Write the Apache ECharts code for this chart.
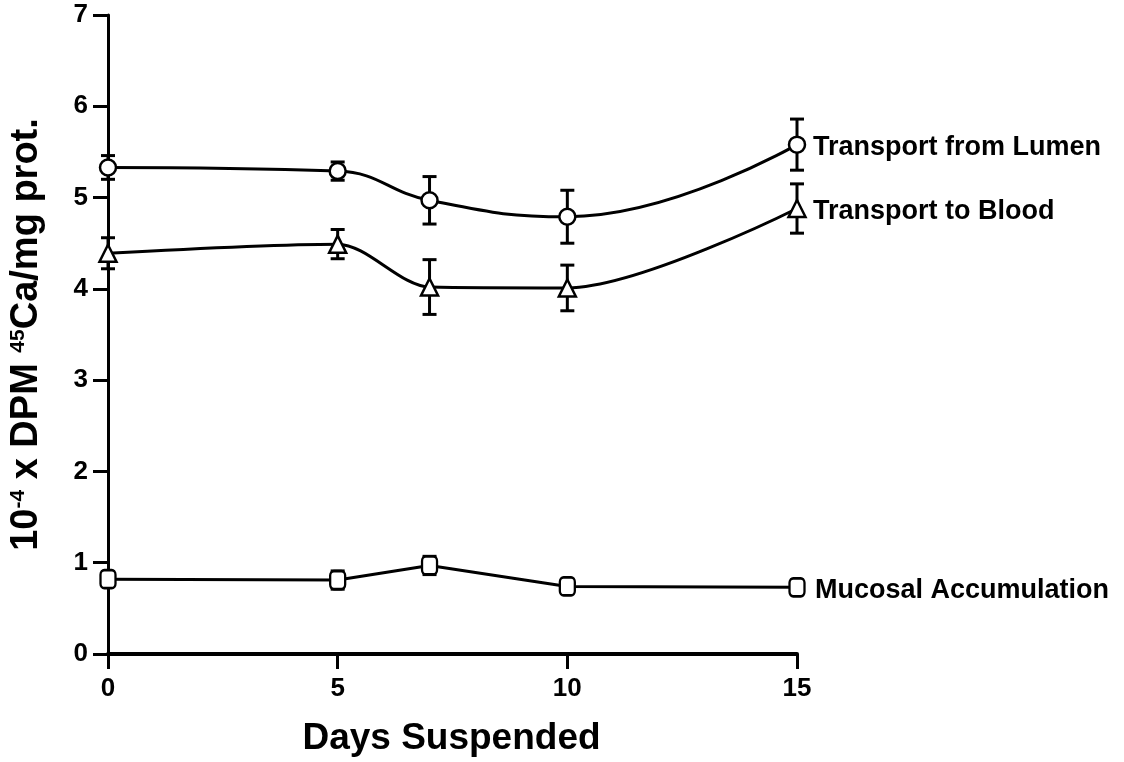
<!DOCTYPE html>
<html>
<head>
<meta charset="utf-8">
<script src="https://cdn.jsdelivr.net/npm/echarts@6/dist/echarts.min.js"></script>
<style>
html,body{margin:0;padding:0;background:#fff;}
#chart{width:1124px;height:762px;}
</style>
</head>
<body>
<div id="chart"></div>
<script>
const days = [0, 5, 7, 10, 15];
const lumen = [5.33, 5.29, 4.97, 4.79, 5.58];
const lumenErr = [0.13, 0.1, 0.26, 0.29, 0.28];
const blood = [4.39, 4.49, 4.02, 4.01, 4.88];
const bloodErr = [0.17, 0.16, 0.3, 0.25, 0.27];
const mucosal = [0.82, 0.81, 0.97, 0.74, 0.73];
const mucosalErr = [0.08, 0.1, 0.1, 0.07, 0.08];
const seriesNames = ['Transport from Lumen', 'Transport to Blood', 'Mucosal Accumulation'];
const xTicks = [0, 5, 10, 15];
const yTicks = [0, 1, 2, 3, 4, 5, 6, 7];

const FONT = '"Liberation Sans", Arial, Helvetica, sans-serif';

function pairs(vals) { return days.map((d, i) => [d, vals[i]]); }
function errData(vals, errs) { return days.map((d, i) => [d, vals[i] - errs[i], vals[i] + errs[i]]); }

function errSeries(vals, errs) {
  return {
    type: 'custom',
    z: 1,
    data: errData(vals, errs),
    renderItem: function (params, api) {
      const x = api.value(0);
      const lo = api.coord([x, api.value(1)]);
      const hi = api.coord([x, api.value(2)]);
      const w = 7;
      const st = { stroke: '#000', lineWidth: 3 };
      return {
        type: 'group',
        children: [
          { type: 'line', shape: { x1: lo[0], y1: lo[1], x2: hi[0], y2: hi[1] }, style: st },
          { type: 'line', shape: { x1: lo[0] - w, y1: lo[1], x2: lo[0] + w, y2: lo[1] }, style: st },
          { type: 'line', shape: { x1: hi[0] - w, y1: hi[1], x2: hi[0] + w, y2: hi[1] }, style: st }
        ]
      };
    }
  };
}

function lineSeries(name, vals, symbol, size, smooth, off) {
  return {
    type: 'line',
    name: name,
    z: 3,
    data: pairs(vals),
    smooth: smooth,
    symbol: symbol,
    symbolSize: size,
    showAllSymbol: true,
    lineStyle: { color: '#000', width: 3 },
    itemStyle: { color: '#fff', borderColor: '#000', borderWidth: 2.5 },
    endLabel: {
      show: true,
      formatter: name,
      offset: off,
      color: '#000',
      fontFamily: FONT,
      fontWeight: 'bold',
      fontSize: 27
    }
  };
}

const chart = echarts.init(document.getElementById('chart'));
chart.setOption({
  backgroundColor: '#fff',
  animation: false,
  grid: { left: 108, top: 15, right: 327, bottom: 107, containLabel: false },
  xAxis: {
    type: 'value',
    min: 0, max: 15, interval: 5,
    name: 'Days Suspended',
    nameLocation: 'middle',
    nameGap: 66,
    nameTextStyle: { fontFamily: FONT, fontWeight: 'bold', fontSize: 37, color: '#000', padding: [0, 0, 0, -2] },
    axisLine: { lineStyle: { color: '#000', width: 4 } },
    axisTick: { show: true, inside: false, length: 15, lineStyle: { color: '#000', width: 3 }, customValues: xTicks },
    axisLabel: { fontFamily: FONT, fontWeight: 'bold', fontSize: 26, color: '#000', margin: 22, customValues: xTicks },
    splitLine: { show: false }
  },
  yAxis: {
    type: 'value',
    min: 0, max: 7, interval: 1,
    name: '{n|10}{s|-4}{n| x DPM }{s|45}{n|Ca/mg prot.}',
    nameLocation: 'middle',
    nameGap: 62,
    nameRotate: 90,
    nameTextStyle: {
      color: '#000',
      rich: {
        n: { fontFamily: FONT, fontWeight: 'bold', fontSize: 38, color: '#000' },
        s: { fontFamily: FONT, fontWeight: 'bold', fontSize: 21, color: '#000', verticalAlign: 'top', padding: [0, 0, 14, 0] }
      }
    },
    axisLine: { show: true, lineStyle: { color: '#000', width: 3 } },
    axisTick: { show: true, inside: false, length: 15, lineStyle: { color: '#000', width: 3 }, customValues: yTicks },
    axisLabel: { fontFamily: FONT, fontWeight: 'bold', fontSize: 26, color: '#000', margin: 20, customValues: yTicks },
    splitLine: { show: false }
  },
  series: [
    errSeries(lumen, lumenErr),
    errSeries(blood, bloodErr),
    errSeries(mucosal, mucosalErr),
    lineSeries(seriesNames[0], lumen, 'circle', 16, 0.45, [8, 3]),
    lineSeries(seriesNames[1], blood, 'triangle', 17, 0.3, [8, 3]),
    lineSeries(seriesNames[2], mucosal, 'roundRect', [15, 18], false, [10, 3])
  ]
});
</script>
</body>
</html>
